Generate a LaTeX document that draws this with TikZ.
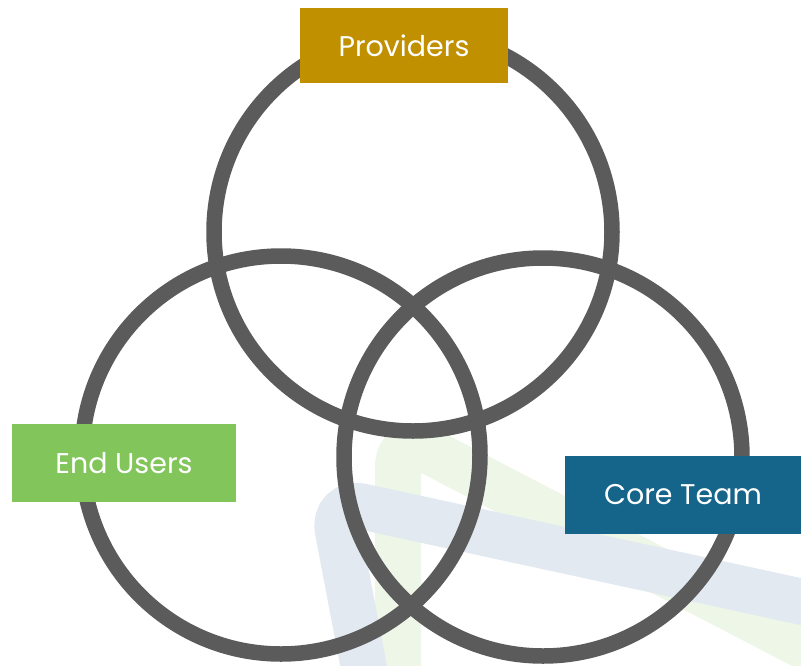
\documentclass[tikz,border=0pt]{standalone}
\usepackage{fontspec}
\setmainfont{Poppins}
\usetikzlibrary{positioning}
\definecolor{ringgray}{HTML}{5B5B5B}
\definecolor{provgold}{HTML}{C09000}
\definecolor{usergreen}{HTML}{82C55B}
\definecolor{teamblue}{HTML}{156489}
\definecolor{markblue}{HTML}{E2E9F0}
\definecolor{markgreen}{HTML}{EEF6E8}
\begin{document}
\begin{tikzpicture}[x=1pt,y=-1pt,
  ring/.style={draw=ringgray,line width=15.5pt},
  tag/.style={rectangle,text=white,inner sep=0pt,font=\fontsize{28.5}{32}\selectfont},
  band/.style={line width=46pt,rounded corners=32pt}]
\useasboundingbox (0,0) rectangle (801,665);
\draw[band,markgreen] (398,700) -- (398,435) -- (840,665);
\draw[band,markblue] (370,700) -- (332,500) -- (840,610);
\coordinate (top) at (413,232);
\coordinate (left) at (281,455);
\coordinate (right) at (543,457);
\draw[ring] (top) circle[radius=199];
\draw[ring] (left) circle[radius=199];
\draw[ring] (right) circle[radius=199];
\node[tag,fill=provgold,minimum width=208pt,minimum height=75pt] (prov) at (404,45.5) {Providers};
\node[tag,fill=usergreen,minimum width=224pt,minimum height=78pt] (users) at (124,463) {End Users};
\node[tag,fill=teamblue,minimum width=236pt,minimum height=78pt] (team) at (683,495) {Core Team};
\end{tikzpicture}
\end{document}
